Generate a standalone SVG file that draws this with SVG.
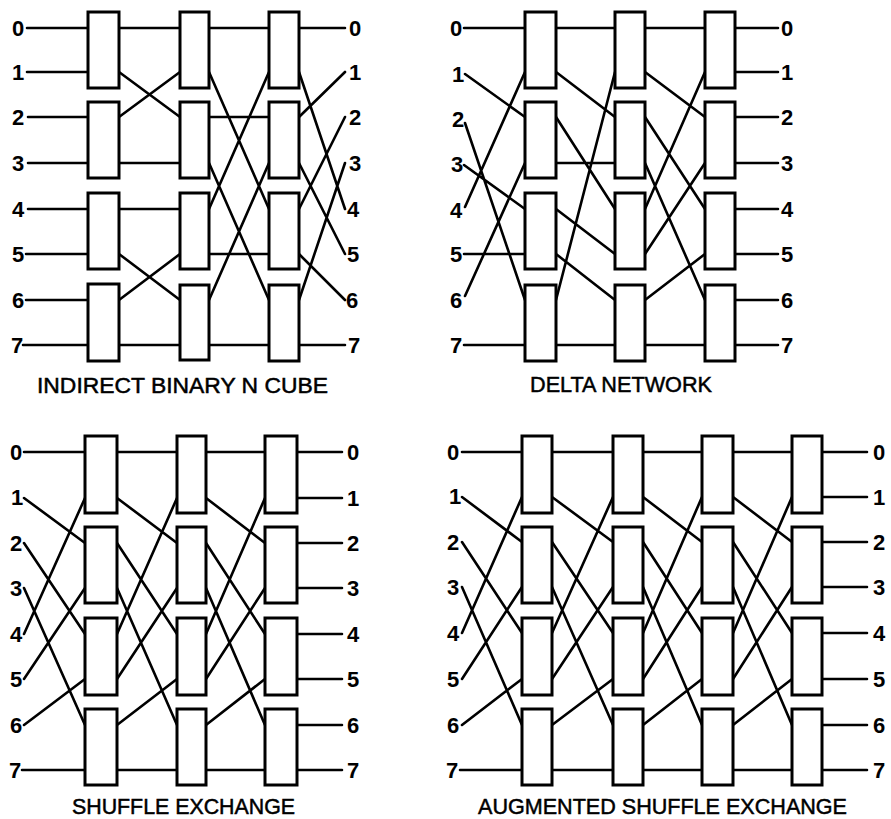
<svg xmlns="http://www.w3.org/2000/svg" width="891" height="819" viewBox="0 0 891 819">
  <style>
    .bg { fill: #ffffff; }
    .box { fill: #ffffff; stroke: #000000; stroke-width: 3; }
    .wire { fill: none; stroke: #000000; stroke-width: 2.6; stroke-linecap: round; }
    .num { font-family: "Liberation Sans", Arial, sans-serif; font-size: 22px; font-weight: bold; fill: #000000; }
    .title { font-family: "Liberation Sans", Arial, sans-serif; font-size: 22px; fill: #000000; stroke: #000000; stroke-width: 0.5; }
  </style>
  <rect class="bg" x="0" y="0" width="891" height="819"/>

  <!-- ===== Indirect binary n-cube ===== -->
  <g id="ibnc-connectors">
    <path class="wire" d="M27 28H88M27 72H88M28 117H88M28 163H88M28 209H88M26 254H88M26 300H88M23 345H88"/>
    <path class="wire" d="M119 28H180M119 72L180 117M119 117L180 72M119 163H180M119 209H180M119 254L180 300M119 300L180 254M119 345H180"/>
    <path class="wire" d="M209 28H269M209 72L269 209M209 117H269M209 163L269 300M209 209L269 72M209 254H269M209 300L269 163M209 345H269"/>
    <path class="wire" d="M299 28H345M299 72L345 209M299 117L345 72M299 163L345 254M299 209L345 117M299 254L345 300M299 300L345 163M299 345H345"/>
  </g>
  <g id="ibnc-s1-b0"><rect class="box" x="88" y="12" width="31" height="76"/></g>
  <g id="ibnc-s1-b1"><rect class="box" x="88" y="102" width="31" height="76"/></g>
  <g id="ibnc-s1-b2"><rect class="box" x="88" y="193" width="31" height="76"/></g>
  <g id="ibnc-s1-b3"><rect class="box" x="88" y="284" width="31" height="77"/></g>
  <g id="ibnc-s2-b0"><rect class="box" x="180" y="12" width="29" height="76"/></g>
  <g id="ibnc-s2-b1"><rect class="box" x="180" y="102" width="29" height="76"/></g>
  <g id="ibnc-s2-b2"><rect class="box" x="180" y="193" width="29" height="76"/></g>
  <g id="ibnc-s2-b3"><rect class="box" x="180" y="285" width="29" height="75"/></g>
  <g id="ibnc-s3-b0"><rect class="box" x="269" y="12" width="30" height="76"/></g>
  <g id="ibnc-s3-b1"><rect class="box" x="269" y="102" width="30" height="76"/></g>
  <g id="ibnc-s3-b2"><rect class="box" x="269" y="193" width="30" height="76"/></g>
  <g id="ibnc-s3-b3"><rect class="box" x="269" y="285" width="30" height="76"/></g>
  <g id="ibnc-labels">
    <text class="num" x="12" y="36">0</text>
    <text class="num" x="12" y="80">1</text>
    <text class="num" x="12" y="125">2</text>
    <text class="num" x="12" y="171">3</text>
    <text class="num" x="12" y="217">4</text>
    <text class="num" x="12" y="262">5</text>
    <text class="num" x="12" y="308">6</text>
    <text class="num" x="11" y="353">7</text>
    <text class="num" x="349" y="36">0</text>
    <text class="num" x="349" y="80">1</text>
    <text class="num" x="349" y="125">2</text>
    <text class="num" x="349" y="171">3</text>
    <text class="num" x="347" y="217">4</text>
    <text class="num" x="347" y="262">5</text>
    <text class="num" x="346" y="308">6</text>
    <text class="num" x="348" y="353">7</text>
    <text class="title" x="37" y="393" textLength="291" lengthAdjust="spacingAndGlyphs">INDIRECT  BINARY  N  CUBE</text>
  </g>

  <!-- ===== Delta network ===== -->
  <g id="delta-connectors">
    <path class="wire" d="M464 28H525M465 74L525 117M465 123L525 300M464 165L525 209M465 207L525 72M464 254H525M465 296L525 163M464 345H525"/>
    <path class="wire" d="M556 28H615M556 72L615 117M556 117L615 209M556 163H615M556 209L615 254M556 254L615 300M556 300L615 72M556 345H615"/>
    <path class="wire" d="M645 28H705M645 72L705 117M645 117L705 209M645 163L705 300M645 209L705 72M645 254L705 163M645 300L705 254M645 345H705"/>
    <path class="wire" d="M735 28H778M735 72H778M735 117H778M735 163H778M735 209H778M735 254H778M735 300H778M735 345H778"/>
  </g>
  <g id="delta-s1-b0"><rect class="box" x="525" y="12" width="31" height="76"/></g>
  <g id="delta-s1-b1"><rect class="box" x="525" y="102" width="31" height="76"/></g>
  <g id="delta-s1-b2"><rect class="box" x="525" y="193" width="31" height="76"/></g>
  <g id="delta-s1-b3"><rect class="box" x="525" y="285" width="31" height="76"/></g>
  <g id="delta-s2-b0"><rect class="box" x="615" y="12" width="30" height="76"/></g>
  <g id="delta-s2-b1"><rect class="box" x="615" y="102" width="30" height="76"/></g>
  <g id="delta-s2-b2"><rect class="box" x="615" y="193" width="30" height="76"/></g>
  <g id="delta-s2-b3"><rect class="box" x="615" y="285" width="30" height="76"/></g>
  <g id="delta-s3-b0"><rect class="box" x="705" y="12" width="30" height="76"/></g>
  <g id="delta-s3-b1"><rect class="box" x="705" y="102" width="30" height="76"/></g>
  <g id="delta-s3-b2"><rect class="box" x="705" y="193" width="30" height="76"/></g>
  <g id="delta-s3-b3"><rect class="box" x="705" y="285" width="30" height="76"/></g>
  <g id="delta-labels">
    <text class="num" x="450" y="36">0</text>
    <text class="num" x="452" y="82">1</text>
    <text class="num" x="452" y="127">2</text>
    <text class="num" x="451" y="172">3</text>
    <text class="num" x="450" y="218">4</text>
    <text class="num" x="450" y="262">5</text>
    <text class="num" x="450" y="308">6</text>
    <text class="num" x="450" y="353">7</text>
    <text class="num" x="781" y="36">0</text>
    <text class="num" x="781" y="80">1</text>
    <text class="num" x="781" y="125">2</text>
    <text class="num" x="781" y="171">3</text>
    <text class="num" x="781" y="217">4</text>
    <text class="num" x="781" y="262">5</text>
    <text class="num" x="781" y="308">6</text>
    <text class="num" x="781" y="353">7</text>
    <text class="title" x="530" y="392" textLength="182" lengthAdjust="spacingAndGlyphs">DELTA  NETWORK</text>
  </g>

  <!-- ===== Shuffle exchange ===== -->
  <g id="se-connectors">
    <path class="wire" d="M24 452H85M24 498L85 543M24 543L85 634M24 588L85 725M24 634L85 498M24 679L85 588M24 725L85 679M22 770H85"/>
    <path class="wire" d="M117 452H177M117 498L177 543M117 543L177 634M117 588L177 725M117 634L177 498M117 679L177 588M117 725L177 679M117 770H177"/>
    <path class="wire" d="M206 452H265M206 498L265 543M206 543L265 634M206 588L265 725M206 634L265 498M206 679L265 588M206 725L265 679M206 770H265"/>
    <path class="wire" d="M297 452H342M297 498H342M297 543H342M297 588H342M297 634H342M297 679H342M297 725H342M297 770H342"/>
  </g>
  <g id="se-s1-b0"><rect class="box" x="85" y="436" width="32" height="77"/></g>
  <g id="se-s1-b1"><rect class="box" x="85" y="527" width="32" height="76"/></g>
  <g id="se-s1-b2"><rect class="box" x="85" y="618" width="32" height="77"/></g>
  <g id="se-s1-b3"><rect class="box" x="85" y="709" width="32" height="76"/></g>
  <g id="se-s2-b0"><rect class="box" x="177" y="436" width="29" height="77"/></g>
  <g id="se-s2-b1"><rect class="box" x="177" y="527" width="29" height="76"/></g>
  <g id="se-s2-b2"><rect class="box" x="177" y="618" width="29" height="77"/></g>
  <g id="se-s2-b3"><rect class="box" x="177" y="709" width="29" height="76"/></g>
  <g id="se-s3-b0"><rect class="box" x="265" y="436" width="32" height="77"/></g>
  <g id="se-s3-b1"><rect class="box" x="265" y="527" width="32" height="76"/></g>
  <g id="se-s3-b2"><rect class="box" x="265" y="618" width="32" height="77"/></g>
  <g id="se-s3-b3"><rect class="box" x="265" y="709" width="32" height="76"/></g>
  <g id="se-labels">
    <text class="num" x="10" y="460">0</text>
    <text class="num" x="11" y="505">1</text>
    <text class="num" x="10" y="551">2</text>
    <text class="num" x="10" y="596">3</text>
    <text class="num" x="10" y="642">4</text>
    <text class="num" x="10" y="687">5</text>
    <text class="num" x="10" y="733">6</text>
    <text class="num" x="9" y="778">7</text>
    <text class="num" x="347" y="460">0</text>
    <text class="num" x="347" y="506">1</text>
    <text class="num" x="347" y="551">2</text>
    <text class="num" x="347" y="596">3</text>
    <text class="num" x="347" y="642">4</text>
    <text class="num" x="347" y="687">5</text>
    <text class="num" x="347" y="733">6</text>
    <text class="num" x="347" y="778">7</text>
    <text class="title" x="72" y="814" textLength="223" lengthAdjust="spacingAndGlyphs">SHUFFLE  EXCHANGE</text>
  </g>

  <!-- ===== Augmented shuffle exchange ===== -->
  <g id="ase-connectors">
    <path class="wire" d="M462 452H522M462 497L522 542M462 542L522 633M462 587L522 725M462 633L522 497M462 679L522 587M462 725L522 679M460 770H522"/>
    <path class="wire" d="M552 452H613M552 497L613 542M552 542L613 633M552 587L613 725M552 633L613 497M552 679L613 587M552 725L613 679M552 770H613"/>
    <path class="wire" d="M643 452H702M643 497L702 542M643 542L702 633M643 587L702 725M643 633L702 497M643 679L702 587M643 725L702 679M643 770H702"/>
    <path class="wire" d="M733 452H792M733 497L792 542M733 542L792 633M733 587L792 725M733 633L792 497M733 679L792 587M733 725L792 679M733 770H792"/>
    <path class="wire" d="M822 452H867M822 497H867M822 542H867M822 587H867M822 633H867M822 679H867M822 725H867M822 770H867"/>
  </g>
  <g id="ase-s1-b0"><rect class="box" x="522" y="436" width="30" height="77"/></g>
  <g id="ase-s1-b1"><rect class="box" x="522" y="527" width="30" height="76"/></g>
  <g id="ase-s1-b2"><rect class="box" x="522" y="618" width="30" height="77"/></g>
  <g id="ase-s1-b3"><rect class="box" x="522" y="709" width="30" height="76"/></g>
  <g id="ase-s2-b0"><rect class="box" x="613" y="436" width="30" height="77"/></g>
  <g id="ase-s2-b1"><rect class="box" x="613" y="527" width="30" height="76"/></g>
  <g id="ase-s2-b2"><rect class="box" x="613" y="618" width="30" height="77"/></g>
  <g id="ase-s2-b3"><rect class="box" x="613" y="709" width="30" height="76"/></g>
  <g id="ase-s3-b0"><rect class="box" x="702" y="436" width="31" height="77"/></g>
  <g id="ase-s3-b1"><rect class="box" x="702" y="527" width="31" height="76"/></g>
  <g id="ase-s3-b2"><rect class="box" x="702" y="618" width="31" height="77"/></g>
  <g id="ase-s3-b3"><rect class="box" x="702" y="709" width="31" height="76"/></g>
  <g id="ase-s4-b0"><rect class="box" x="792" y="436" width="30" height="77"/></g>
  <g id="ase-s4-b1"><rect class="box" x="792" y="527" width="30" height="76"/></g>
  <g id="ase-s4-b2"><rect class="box" x="792" y="618" width="30" height="77"/></g>
  <g id="ase-s4-b3"><rect class="box" x="792" y="709" width="30" height="76"/></g>
  <g id="ase-labels">
    <text class="num" x="447" y="460">0</text>
    <text class="num" x="449" y="504">1</text>
    <text class="num" x="447" y="550">2</text>
    <text class="num" x="447" y="595">3</text>
    <text class="num" x="447" y="641">4</text>
    <text class="num" x="447" y="687">5</text>
    <text class="num" x="447" y="733">6</text>
    <text class="num" x="446" y="778">7</text>
    <text class="num" x="873" y="460">0</text>
    <text class="num" x="873" y="505">1</text>
    <text class="num" x="873" y="550">2</text>
    <text class="num" x="873" y="595">3</text>
    <text class="num" x="873" y="641">4</text>
    <text class="num" x="873" y="687">5</text>
    <text class="num" x="873" y="733">6</text>
    <text class="num" x="873" y="778">7</text>
    <text class="title" x="478" y="814" textLength="369" lengthAdjust="spacingAndGlyphs">AUGMENTED  SHUFFLE  EXCHANGE</text>
  </g>
</svg>
